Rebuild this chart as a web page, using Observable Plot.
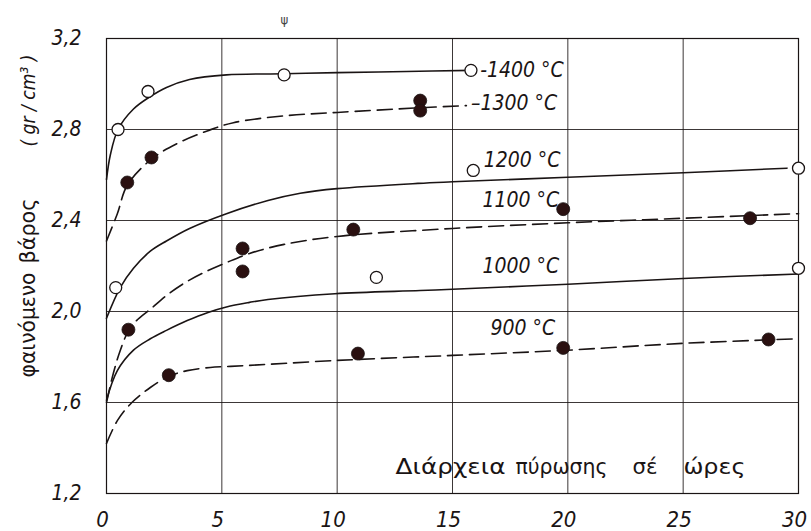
<!DOCTYPE html>
<html>
<head>
<meta charset="utf-8">
<script src="https://cdn.jsdelivr.net/npm/d3@7"></script>
<script src="https://cdn.jsdelivr.net/npm/@observablehq/plot@0.6"></script>
<style>
  html, body { margin: 0; padding: 0; background: #fff; }
  #chart { width: 811px; height: 531px; }
</style>
</head>
<body>
<div id="chart"></div>
<script>
// Axis ticks
const xTicks = [0, 5, 10, 15, 20, 25, 30];
const xTickLabels = ["0", "5", "10", "15", "20", "25", "30"];
const yTicks = [1.2, 1.6, 2.0, 2.4, 2.8, 3.2];
const yTickLabels = ["1,2", "1,6", "2,0", "2,4", "2,8", "3,2"];

// Curves [hours, apparent density]
const curve1400 = [[0,2.58],[0.17,2.69],[0.5,2.8],[1.17,2.89],[1.9,2.945],[2.6,2.985],[3.6,3.02],[5.2,3.04],[7.7,3.045],[10,3.05],[13,3.055],[15.8,3.06]];
const curve1300 = [[0,2.31],[0.47,2.43],[0.9,2.555],[1.95,2.67],[3.1,2.74],[4.4,2.795],[5.5,2.83],[7.7,2.86],[10,2.875],[13.5,2.895],[15.6,2.905]];
const curve1200 = [[0,1.97],[0.6,2.106],[1.17,2.19],[1.9,2.265],[2.6,2.31],[3.6,2.365],[5.2,2.43],[7,2.488],[8.4,2.52],[10,2.54],[13.5,2.563],[15,2.57],[20,2.59],[25,2.61],[29.5,2.63]];
const curve1100 = [[0,1.6],[0.3,1.73],[0.6,1.83],[0.95,1.915],[1.3,1.96],[1.9,2.01],[2.6,2.07],[3.3,2.12],[4.2,2.17],[5.2,2.215],[6.2,2.255],[7.7,2.295],[10,2.33],[15,2.365],[20,2.39],[25,2.41],[30,2.43]];
const curve1000 = [[0,1.61],[0.47,1.74],[1.17,1.83],[1.9,1.88],[2.6,1.917],[3.5,1.96],[4.4,1.996],[5.2,2.02],[6.2,2.04],[7,2.053],[9.9,2.078],[13.6,2.092],[15,2.098],[20,2.12],[25,2.145],[30,2.165]];
const curve900  = [[0,1.42],[0.47,1.52],[1.1,1.6],[1.9,1.666],[2.7,1.715],[3.5,1.74],[4.5,1.754],[5.2,1.758],[6.2,1.763],[10,1.785],[15,1.807],[20,1.83],[25,1.86],[30,1.88]];

// Measured points
const openX = [0.5, 1.8, 7.7, 15.8, 0.4, 15.9, 30, 11.7, 30];
const openY = [2.8, 2.967, 3.04, 3.06, 2.105, 2.62, 2.63, 2.15, 2.19];
const filledX = [0.9, 1.95, 13.6, 13.6, 0.95, 5.9, 5.9, 10.7, 19.8, 27.9, 2.7, 10.9, 19.8, 28.7];
const filledY = [2.567, 2.677, 2.927, 2.883, 1.92, 2.277, 2.176, 2.36, 2.45, 2.41, 1.72, 1.815, 1.84, 1.877];

// Series labels
const seriesNames = ["-1400 °C", "–1300 °C", "1200 °C", "1100 °C", "1000 °C", "900 °C"];
const seriesDashed = [false, true, false, true, false, true];
const seriesCurves = [curve1400, curve1300, curve1200, curve1100, curve1000, curve900];

// Axis titles
const xTitleWords = ["Διάρχεια", "πύρωσης", "σέ", "ώρες"];
const yTitleParts = ["φαινόμενο", "βάρος", "( gr / cm³ )"];

const rows = [];
seriesCurves.forEach((c, i) => c.forEach(([t, d]) => rows.push({series: seriesNames[i], dashed: seriesDashed[i], t, d})));
const openPts = openX.map((t, i) => ({t, d: openY[i]}));
const filledPts = filledX.map((t, i) => ({t, d: filledY[i]}));

const labelPos = [[16.2, 3.06], [15.8, 2.914], [16.35, 2.664], [16.3, 2.488], [16.3, 2.198], [16.65, 1.925]];
const labels = seriesNames.map((s, i) => ({s, t: labelPos[i][0], d: labelPos[i][1]}));
const xWordPos = [12.53, 17.73, 22.8, 25.01];
const xWords = xTitleWords.map((w, i) => ({w, t: xWordPos[i], d: 1.315}));
const yPartPos = [1.71, 2.211, 2.725];
const yParts = yTitleParts.map((w, i) => ({w, d: yPartPos[i], it: i === 2}));

const FONT = "'Liberation Sans Narrow', 'DejaVu Sans Condensed', 'Liberation Sans', sans-serif";
const INK = "#1a1414";

const chart = Plot.plot({
  width: 811,
  height: 531,
  marginLeft: 106,
  marginRight: 13,
  marginTop: 38,
  marginBottom: 38,
  style: {fontFamily: FONT, background: "#fff", color: INK},
  x: {domain: [0, 30]},
  y: {domain: [1.2, 3.2]},
  marks: [
    Plot.gridX(xTicks, {stroke: INK, strokeOpacity: 0.85, strokeWidth: 1}),
    Plot.gridY(yTicks, {stroke: INK, strokeOpacity: 0.85, strokeWidth: 1}),
    Plot.frame({stroke: INK, strokeWidth: 1.2}),
    Plot.axisX({ticks: xTicks, tickFormat: d => xTickLabels[xTicks.indexOf(d)], tickSize: 0, tickPadding: 18, dx: -4,
      fontSize: 22, fontStyle: "italic", label: null}),
    Plot.axisY({ticks: yTicks, tickFormat: d => yTickLabels[yTicks.findIndex(v => Math.abs(v - d) < 1e-9)],
      tickSize: 0, tickPadding: 25, fontSize: 21, fontStyle: "italic", label: null}),
    Plot.line(rows.filter(r => !r.dashed), {x: "t", y: "d", z: "series", stroke: INK, strokeWidth: 1.6, curve: "catmull-rom"}),
    Plot.line(rows.filter(r => r.dashed), {x: "t", y: "d", z: "series", stroke: INK, strokeWidth: 1.6, strokeDasharray: "15,7", curve: "catmull-rom"}),
    Plot.dot(openPts, {x: "t", y: "d", r: 6, fill: "#fff", stroke: INK, strokeWidth: 1.3}),
    Plot.dot(filledPts, {x: "t", y: "d", r: 6.5, fill: "#2a1010", stroke: INK, strokeWidth: 0.8}),
    Plot.text(labels, {x: "t", y: "d", text: "s", textAnchor: "start", fontSize: 21, fontStyle: "italic", fill: INK}),
    Plot.text(xWords, {x: "t", y: "d", text: "w", textAnchor: "start", fontSize: 22, fill: INK}),
    Plot.text(yParts.filter(p => !p.it), {y: "d", text: "w", frameAnchor: "left", dx: -78, rotate: -90, fontSize: 21, fill: INK}),
    Plot.text(yParts.filter(p => p.it), {y: "d", text: "w", frameAnchor: "left", dx: -78, rotate: -90, fontSize: 20, fontStyle: "italic", fill: INK}),
    Plot.text(["ψ"], {frameAnchor: "top-left", dx: 174, dy: -24, fontSize: 13, fill: "#444"})
  ]
});

// stretch title words to the lettering widths of the scan
const titleWidths = {"Διάρχεια": 110, "πύρωσης": 92, "σέ": 25, "ώρες": 62, "φαινόμενο": 105, "βάρος": 65, "( gr / cm³ )": 92};
d3.select(chart).selectAll("text").each(function() {
  const w = titleWidths[this.textContent];
  if (w) { this.setAttribute("textLength", w); this.setAttribute("lengthAdjust", "spacingAndGlyphs"); }
});
document.getElementById("chart").appendChild(chart);
</script>
</body>
</html>
